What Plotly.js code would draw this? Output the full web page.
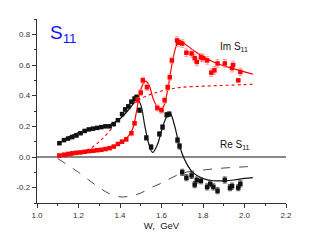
<!DOCTYPE html>
<html><head><meta charset="utf-8">
<script src="https://cdn.plot.ly/plotly-3.0.1.min.js"></script>
<style>html,body{margin:0;padding:0;background:#fff;}#chart{width:310px;height:251px;}</style>
</head><body><div id="chart"></div>
<script>
// Re S11 data (black)
var W_re = [1.108,1.13,1.15,1.17,1.19,1.21,1.23,1.25,1.27,1.29,1.31,1.33,1.35,1.37,1.39,1.41,1.425,1.44,1.455,1.47,1.48,1.494,1.527,1.55,1.59,1.605,1.625,1.637,1.677,1.687,1.70,1.72,1.745,1.76,1.77,1.79,1.82,1.835,1.85,1.87,1.905,1.93,1.94,1.97,1.98];
var re_vals = [0.09,0.11,0.12,0.13,0.14,0.155,0.17,0.18,0.185,0.19,0.195,0.2,0.2,0.215,0.24,0.28,0.31,0.33,0.36,0.38,0.39,0.305,0.125,0.065,0.15,0.195,0.275,0.28,0.11,0.07,-0.1,-0.135,-0.12,-0.18,-0.15,-0.155,-0.195,-0.175,-0.195,-0.22,-0.15,-0.2,-0.19,-0.2,-0.175];
var re_err = [0.005,0.005,0.005,0.005,0.005,0.005,0.005,0.005,0.005,0.005,0.005,0.005,0.005,0.008,0.008,0.01,0.01,0.01,0.012,0.012,0.015,0.015,0.015,0.015,0.015,0.015,0.015,0.015,0.018,0.018,0.02,0.02,0.02,0.02,0.02,0.02,0.02,0.02,0.02,0.02,0.02,0.02,0.02,0.02,0.02];
// Im S11 data (red)
var W_im = [1.108,1.13,1.15,1.17,1.19,1.21,1.23,1.25,1.27,1.29,1.31,1.33,1.35,1.37,1.39,1.41,1.43,1.455,1.47,1.485,1.50,1.51,1.53,1.58,1.60,1.615,1.63,1.64,1.65,1.675,1.68,1.70,1.72,1.745,1.76,1.77,1.79,1.80,1.82,1.84,1.855,1.87,1.905,1.94,1.945,1.98,1.97];
var im_vals = [0.01,0.015,0.02,0.024,0.028,0.03,0.034,0.038,0.041,0.044,0.047,0.052,0.058,0.068,0.085,0.1,0.115,0.155,0.22,0.37,0.42,0.5,0.455,0.32,0.305,0.37,0.455,0.52,0.63,0.76,0.745,0.74,0.68,0.675,0.645,0.62,0.65,0.645,0.63,0.55,0.565,0.61,0.61,0.58,0.6,0.555,0.5];
var im_err = [0.005,0.005,0.005,0.005,0.005,0.005,0.005,0.005,0.005,0.005,0.005,0.005,0.006,0.006,0.008,0.008,0.01,0.01,0.012,0.015,0.02,0.02,0.02,0.02,0.02,0.02,0.02,0.02,0.02,0.025,0.025,0.025,0.025,0.025,0.025,0.025,0.025,0.025,0.025,0.025,0.025,0.025,0.025,0.025,0.025,0.025,0.0];
// Fit curves
var W_fit = [1.1,1.15,1.2,1.25,1.3,1.35,1.4,1.43,1.46,1.48,1.5,1.52,1.54,1.557,1.58,1.6,1.62,1.64,1.66,1.68,1.7,1.72,1.75,1.8,1.85,1.9,1.95,2.0,2.04];
var re_fit = [0.08,0.13,0.16,0.18,0.195,0.21,0.25,0.29,0.34,0.385,0.34,0.2,0.08,0.03,0.08,0.17,0.25,0.29,0.22,0.11,0.02,-0.04,-0.1,-0.14,-0.155,-0.155,-0.15,-0.14,-0.135];
var W_fit2 = [1.1,1.15,1.2,1.25,1.3,1.35,1.4,1.43,1.46,1.48,1.5,1.523,1.54,1.56,1.59,1.61,1.63,1.65,1.67,1.687,1.72,1.76,1.8,1.85,1.9,1.95,2.0,2.04];
var im_fit = [0.01,0.02,0.03,0.04,0.045,0.06,0.09,0.12,0.18,0.3,0.44,0.495,0.47,0.38,0.305,0.33,0.44,0.6,0.72,0.76,0.73,0.69,0.655,0.62,0.595,0.575,0.555,0.54];
// Background curves
var W_bg = [1.1,1.15,1.2,1.25,1.3,1.35,1.4,1.45,1.5,1.55,1.6,1.65,1.7,1.8,1.9,2.0,2.05];
var re_bg = [-0.01,-0.055,-0.1,-0.15,-0.2,-0.24,-0.26,-0.255,-0.235,-0.2,-0.17,-0.135,-0.105,-0.085,-0.072,-0.064,-0.06];
var im_bg = [0.0,0.005,0.02,0.05,0.1,0.17,0.25,0.33,0.38,0.41,0.43,0.445,0.455,0.462,0.467,0.472,0.475];

var traces = [
  {x: W_bg, y: re_bg, mode:'lines', line:{color:'#333', width:0.9, dash:'dash', shape:'spline'}},
  {x: W_bg, y: im_bg, mode:'lines', line:{color:'#e00', width:1.1, dash:'dot', shape:'spline'}},
  {x: W_fit, y: re_fit, mode:'lines', line:{color:'#111', width:1.2, shape:'spline'}},
  {x: W_fit2, y: im_fit, mode:'lines', line:{color:'#f00', width:1.2, shape:'spline'}},
  {x: W_re, y: re_vals, mode:'markers', marker:{symbol:'square', size:4.5, color:'#111'},
   error_y:{type:'data', array: re_err, color:'#333', thickness:0.8, width:2}},
  {x: W_im, y: im_vals, mode:'markers', marker:{symbol:'square', size:4.5, color:'#f00'},
   error_y:{type:'data', array: im_err, color:'#f88', thickness:0.8, width:2}}
];

var tickfont = {family:'Liberation Sans, Arial, sans-serif', size:8, color:'#333'};
var layout = {
  width:310, height:251, showlegend:false,
  paper_bgcolor:'#fff', plot_bgcolor:'#fff',
  margin:{l:37, r:24, t:19, b:48},
  xaxis:{range:[1.0,2.2], tickvals:[1.0,1.2,1.4,1.6,1.8,2.0,2.2], ticktext:['1.0','1.2','1.4','1.6','1.8','2.0','2.2'],
    ticks:'outside', ticklen:4, tickcolor:'#333', showline:true, linecolor:'#333', linewidth:1.2,
    showgrid:false, zeroline:false, tickfont:tickfont,
    minor:{dtick:0.1, ticks:'outside', ticklen:2, tickcolor:'#333'},
    title:{text:'W,  GeV', font:{family:'Liberation Sans, Arial, sans-serif', size:9.5, color:'#222'}, standoff:3}},
  yaxis:{range:[-0.3,0.9], tickvals:[-0.2,0.0,0.2,0.4,0.6,0.8], ticktext:['-0.2','0.0','0.2','0.4','0.6','0.8'],
    ticks:'outside', ticklen:4, tickcolor:'#333', showline:true, linecolor:'#333', linewidth:1.2,
    showgrid:false, zeroline:true, zerolinecolor:'#888', zerolinewidth:1.5, tickfont:tickfont,
    minor:{dtick:0.1, ticks:'outside', ticklen:2, tickcolor:'#333'}},
  annotations:[
    {x:1.055, y:0.8, xref:'x', yref:'y', xanchor:'left', yanchor:'middle', showarrow:false,
     text:'S<sub>11</sub>', font:{family:'Liberation Sans, Arial, sans-serif', size:19, color:'#1010ff'}},
    {x:1.87, y:0.72, xref:'x', yref:'y', xanchor:'left', yanchor:'middle', showarrow:false,
     text:'Im S<sub>11</sub>', font:{family:'Liberation Sans, Arial, sans-serif', size:10, color:'#111'}},
    {x:1.87, y:0.08, xref:'x', yref:'y', xanchor:'left', yanchor:'middle', showarrow:false,
     text:'Re S<sub>11</sub>', font:{family:'Liberation Sans, Arial, sans-serif', size:10, color:'#111'}}
  ]
};
Plotly.newPlot('chart', traces, layout, {displayModeBar:false, staticPlot:true});
</script></body></html>
